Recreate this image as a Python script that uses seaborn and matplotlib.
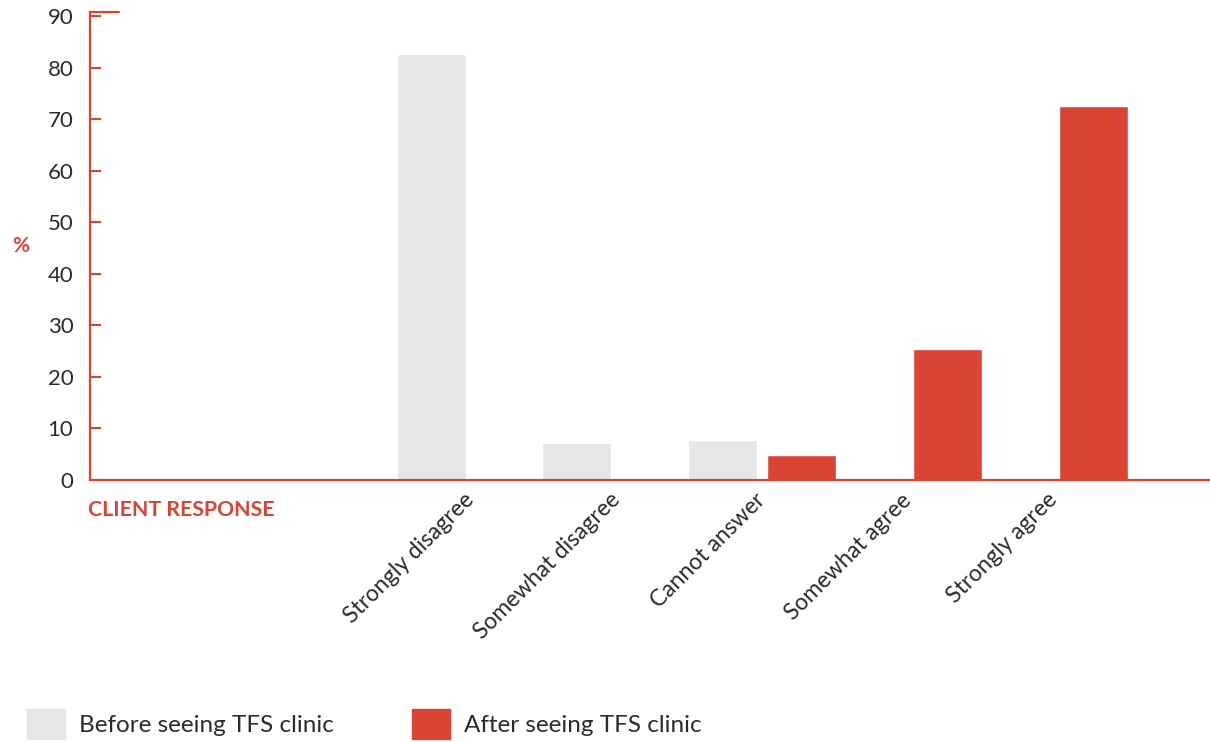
import pandas as pd
import matplotlib
matplotlib.use('Agg')
import matplotlib.pyplot as plt
import matplotlib.patches as mpatches
import seaborn as sns

# Survey data (% of clients)
categories = ['Strongly disagree', 'Somewhat disagree', 'Cannot answer',
              'Somewhat agree', 'Strongly agree']
before = [82.7, 7.2, 7.8, 0, 0]
after = [0, 0, 4.9, 25.4, 72.6]
series = ['Before seeing TFS clinic', 'After seeing TFS clinic']
y_ticks = [0, 10, 20, 30, 40, 50, 60, 70, 80, 90]

RED = '#db4335'
GREY = '#e5e6e5'
TEXT = '#2b2b2b'

df = pd.DataFrame({
    'Response': categories * 2,
    'Series': [series[0]] * len(categories) + [series[1]] * len(categories),
    'Percent': before + after,
})

sns.set_style('white')
plt.rcParams['font.family'] = ['Lato', 'DejaVu Sans']

fig = plt.figure(figsize=(12.1, 7.42), dpi=100)
ax = fig.add_axes([90 / 1210, 1 - 480 / 742, 1 - 90 / 1210, 468 / 742])

sns.barplot(data=df, x='Response', y='Percent', hue='Series',
            order=categories, hue_order=series,
            palette=[GREY, RED], width=1.084, gap=0.127,
            saturation=1, legend=False, ax=ax)

ax.set_xlim(-2.61, 5.07)
ax.set_ylim(0, 90.8)
ax.set_yticks(y_ticks)

for side in ['top', 'right']:
    ax.spines[side].set_visible(False)
for side in ['left', 'bottom']:
    ax.spines[side].set_color(RED)
    ax.spines[side].set_linewidth(1.6)

ax.tick_params(axis='y', direction='in', length=8, width=1.5, color=RED,
               pad=12, labelsize=16, labelcolor=TEXT, left=True)
ax.tick_params(axis='x', length=0, pad=12, labelsize=16.5, labelcolor=TEXT)
ax.axhline(ax.get_ylim()[1], xmin=0, xmax=0.026, color=RED, lw=1.6,
           clip_on=False)

for lab in ax.get_xticklabels():
    lab.set_rotation(45)
    lab.set_ha('right')
    lab.set_va('center')
    lab.set_rotation_mode('anchor')

ax.set_xlabel('')
ax.set_ylabel('%', rotation=0, color=RED, fontsize=15, fontweight='bold',
              va='center')
ax.yaxis.set_label_coords(-0.062, 0.5)

ax.text(-0.002, -0.064, 'CLIENT RESPONSE', transform=ax.transAxes, color=RED,
        fontsize=15.3, fontweight='bold', ha='left', va='center')

handles = [mpatches.Patch(color=GREY, label=series[0]),
           mpatches.Patch(color=RED, label=series[1])]
fig.legend(handles=handles, loc='center left',
           bbox_to_anchor=(27 / 1210, 1 - 724 / 742), ncol=2, frameon=False,
           fontsize=17.5, handlelength=1.56, handleheight=1.56,
           handletextpad=0.58, columnspacing=3.2, borderpad=0,
           borderaxespad=0, labelcolor=TEXT)

fig.savefig('out.png', dpi=100)
